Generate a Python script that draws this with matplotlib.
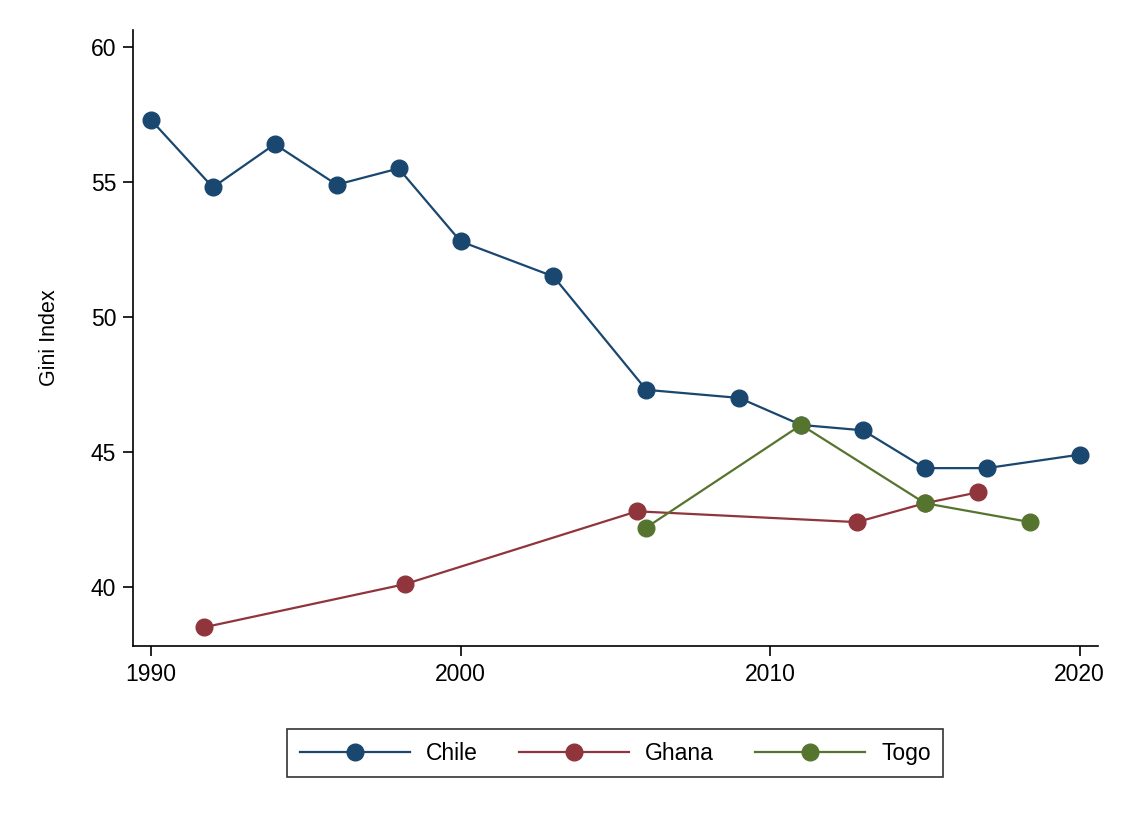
import matplotlib.pyplot as plt

plt.rcParams['font.family'] = ['Liberation Sans', 'DejaVu Sans']

# Gini index by survey year
chile_years = [1990, 1992, 1994, 1996, 1998, 2000, 2003, 2006, 2009, 2011, 2013, 2015, 2017, 2020]
chile_gini = [57.3, 54.8, 56.4, 54.9, 55.5, 52.8, 51.5, 47.3, 47.0, 46.0, 45.8, 44.4, 44.4, 44.9]

ghana_years = [1991.7, 1998.2, 2005.7, 2012.8, 2015.0, 2016.7]
ghana_gini = [38.5, 40.1, 42.8, 42.4, 43.1, 43.5]

togo_years = [2006, 2011, 2015, 2018.4]
togo_gini = [42.2, 46.0, 43.1, 42.4]

fig = plt.figure(figsize=(11.27, 8.19), dpi=100)
ax = fig.add_axes([0.118, 0.2112, 0.856, 0.7522])

style = dict(marker='o', markersize=12, linewidth=1.6)
ax.plot(chile_years, chile_gini, color='#1a476f', label='Chile', **style)
ax.plot(ghana_years, ghana_gini, color='#90353b', label='Ghana', **style)
ax.plot(togo_years, togo_gini, color='#55752f', label='Togo', **style)

ax.set_xlim(1989.42, 2020.58)
ax.set_ylim(37.81, 60.63)
ax.set_xticks([1990, 2000, 2010, 2020])
ax.set_yticks([40, 45, 50, 55, 60])
ax.tick_params(direction='out', length=7, width=1.2, labelsize=16.5, pad=5)
ax.spines['top'].set_visible(False)
ax.spines['right'].set_visible(False)
ax.spines['left'].set_linewidth(1.2)
ax.spines['bottom'].set_linewidth(1.2)
ax.set_ylabel('Gini Index', fontsize=15.5, labelpad=22)

leg = ax.legend(loc='center', bbox_to_anchor=(0.5, -0.174), ncol=3, fontsize=16.5,
                frameon=True, fancybox=False, edgecolor='black', handlelength=4.8,
                columnspacing=1.8, handletextpad=0.7, borderpad=0.55)
leg.get_frame().set_linewidth(1.2)

fig.savefig('out.png', dpi=100)
